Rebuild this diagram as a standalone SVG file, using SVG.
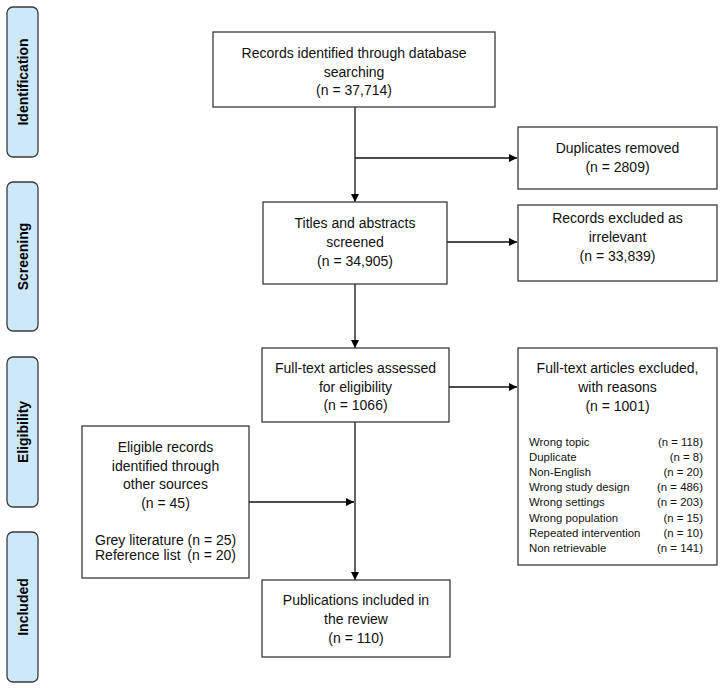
<svg xmlns="http://www.w3.org/2000/svg" width="720" height="688" viewBox="0 0 720 688">
<defs>
<style>
.phase{fill:#cce8fa;stroke:#3a3a3a;stroke-width:1.3}
.box{fill:#ffffff;stroke:#3a3a3a;stroke-width:1.3}
.pt{font-family:"Liberation Sans",Arial,sans-serif;font-size:14px;font-weight:bold;fill:#000;text-anchor:middle}
.t{font-family:"Liberation Sans",Arial,sans-serif;font-size:14px;fill:#111;text-anchor:middle}
.ts{font-family:"Liberation Sans",Arial,sans-serif;font-size:11.4px;fill:#111}
.tl{font-family:"Liberation Sans",Arial,sans-serif;font-size:14px;fill:#111}
.c{stroke:#111;stroke-width:1.3;fill:none;marker-end:url(#ah)}
</style>
<marker id="ah" viewBox="0 0 10 10" refX="10" refY="5" markerWidth="8" markerHeight="8" markerUnits="userSpaceOnUse" orient="auto">
<path d="M0,0 L10,5 L0,10 Z" fill="#000"/>
</marker>
</defs>
<rect width="720" height="688" fill="#ffffff"/>

<g id="phase-identification">
<rect class="phase" x="7" y="7" width="31" height="150" rx="6"/>
<text class="pt" transform="translate(27.5,82) rotate(-90)">Identification</text>
</g>
<g id="phase-screening">
<rect class="phase" x="7" y="182" width="31" height="149" rx="6"/>
<text class="pt" transform="translate(27.5,256.5) rotate(-90)">Screening</text>
</g>
<g id="phase-eligibility">
<rect class="phase" x="7" y="357" width="31" height="150" rx="6"/>
<text class="pt" transform="translate(27.5,432) rotate(-90)">Eligibility</text>
</g>
<g id="phase-included">
<rect class="phase" x="7" y="532" width="31" height="150" rx="6"/>
<text class="pt" transform="translate(27.5,607) rotate(-90)">Included</text>
</g>

<g id="connectors">
<line class="c" x1="355" y1="107" x2="355" y2="202"/>
<line class="c" x1="355" y1="158" x2="517" y2="158"/>
<line class="c" x1="447" y1="242" x2="517" y2="242"/>
<line class="c" x1="355" y1="284" x2="355" y2="348"/>
<line class="c" x1="449" y1="387" x2="517" y2="387"/>
<line class="c" x1="355" y1="422" x2="355" y2="580"/>
<line class="c" x1="249" y1="502" x2="354" y2="502"/>
</g>

<g id="records-identified">
<rect class="box" x="213" y="32" width="282" height="75"/>
<text class="t" x="354" y="58">Records identified through database</text>
<text class="t" x="354" y="76.5">searching</text>
<text class="t" x="354" y="95">(n = 37,714)</text>
</g>

<g id="duplicates-removed">
<rect class="box" x="518" y="127" width="199" height="62"/>
<text class="t" x="617.5" y="153">Duplicates removed</text>
<text class="t" x="617.5" y="172">(n = 2809)</text>
</g>

<g id="titles-screened">
<rect class="box" x="263" y="202" width="184" height="82"/>
<text class="t" x="355" y="228">Titles and abstracts</text>
<text class="t" x="355" y="247">screened</text>
<text class="t" x="355" y="266">(n = 34,905)</text>
</g>

<g id="records-excluded">
<rect class="box" x="518" y="205" width="199" height="76"/>
<text class="t" x="617.5" y="223">Records excluded as</text>
<text class="t" x="617.5" y="242">irrelevant</text>
<text class="t" x="617.5" y="261">(n = 33,839)</text>
</g>

<g id="fulltext-assessed">
<rect class="box" x="262" y="348" width="187" height="74"/>
<text class="t" x="355.5" y="373">Full-text articles assessed</text>
<text class="t" x="355.5" y="392">for eligibility</text>
<text class="t" x="355.5" y="410">(n = 1066)</text>
</g>

<g id="fulltext-excluded">
<rect class="box" x="518" y="348" width="199" height="217"/>
<text class="t" x="617.5" y="373">Full-text articles excluded,</text>
<text class="t" x="617.5" y="392">with reasons</text>
<text class="t" x="617.5" y="411">(n = 1001)</text>
<text class="ts" x="529" y="446">Wrong topic</text>
<text class="ts" x="529" y="461">Duplicate</text>
<text class="ts" x="529" y="476">Non-English</text>
<text class="ts" x="529" y="491">Wrong study design</text>
<text class="ts" x="529" y="506">Wrong settings</text>
<text class="ts" x="529" y="522">Wrong population</text>
<text class="ts" x="529" y="537">Repeated intervention</text>
<text class="ts" x="529" y="552">Non retrievable</text>
<g text-anchor="end">
<text class="ts" x="703" y="446" text-anchor="end">(n = 118)</text>
<text class="ts" x="703" y="461" text-anchor="end">(n = 8)</text>
<text class="ts" x="703" y="476" text-anchor="end">(n = 20)</text>
<text class="ts" x="703" y="491" text-anchor="end">(n = 486)</text>
<text class="ts" x="703" y="506" text-anchor="end">(n = 203)</text>
<text class="ts" x="703" y="522" text-anchor="end">(n = 15)</text>
<text class="ts" x="703" y="537" text-anchor="end">(n = 10)</text>
<text class="ts" x="703" y="552" text-anchor="end">(n = 141)</text>
</g>
</g>

<g id="other-sources">
<rect class="box" x="82" y="426" width="167" height="152"/>
<text class="t" x="165.5" y="452">Eligible records</text>
<text class="t" x="165.5" y="470.5">identified through</text>
<text class="t" x="165.5" y="489">other sources</text>
<text class="t" x="165.5" y="508">(n = 45)</text>
<text class="tl" x="95" y="545">Grey literature (n = 25)</text>
<text class="tl" x="95" y="560">Reference list</text>
<text class="tl" x="236" y="560" text-anchor="end">(n = 20)</text>
</g>

<g id="publications-included">
<rect class="box" x="262" y="580" width="188" height="77"/>
<text class="t" x="356" y="605">Publications included in</text>
<text class="t" x="356" y="624">the review</text>
<text class="t" x="356" y="643">(n = 110)</text>
</g>
</svg>
